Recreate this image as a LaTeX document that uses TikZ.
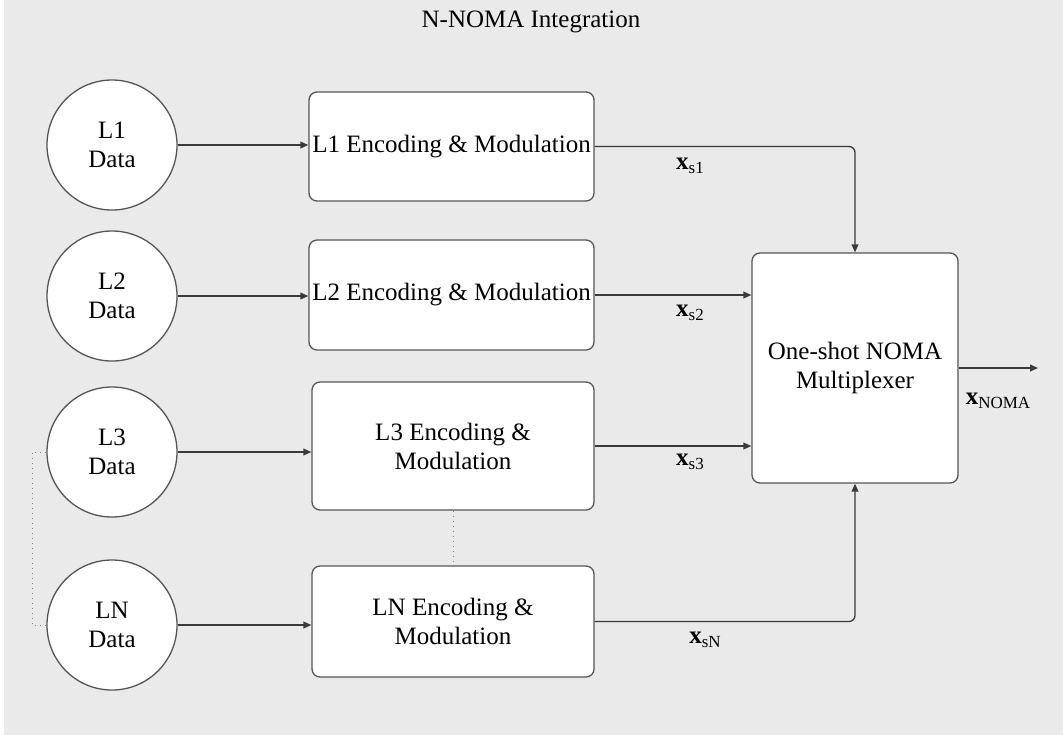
\documentclass[tikz,border=0pt]{standalone}
\usepackage{fontspec}
\setmainfont{Liberation Serif}
\usetikzlibrary{arrows.meta,calc}
\definecolor{bgc}{HTML}{EAEAEA}
\definecolor{ln}{HTML}{3A3A3A}
\definecolor{rim}{HTML}{555555}
\newcommand{\xsig}[1]{\textbf{x}\raisebox{-0.4ex}{\fontsize{8.5}{9}\selectfont #1}}
\tikzset{
  >={Triangle[length=4pt,width=3.4pt]},
  dat/.style={circle,draw=rim,fill=white,minimum size=65pt,inner sep=0pt,align=center},
  blk/.style={rectangle,rounded corners=4pt,draw=rim,fill=white,inner sep=0pt,align=center},
  sig/.style={inner sep=0pt,anchor=center},
  every picture/.style={line width=0.65pt},
  every node/.style={font=\fontsize{12.5}{14.5}\selectfont},
}
\begin{document}
\begin{tikzpicture}[x=0.5pt,y=-0.5pt]
\fill[white] (0,0) rectangle (1063,735); \fill[bgc] (4,0) rectangle (1063,735);
\node (title) at (531,22) {N-NOMA Integration};
% data sources
\node[dat] (d1) at (112,145){L1\\Data}; \node[dat] (d2) at (112,296){L2\\Data};
\node[dat] (d3) at (112,452){L3\\Data}; \node[dat] (dN) at (112,625){LN\\Data};
% encoders
\node[blk,minimum width=142.5pt,minimum height=54.5pt] (b1) at (451.5,146.5){L1 Encoding \& Modulation};
\node[blk,minimum width=142.5pt,minimum height=55pt] (b2) at (451.5,295){L2 Encoding \& Modulation};
\node[blk,minimum width=141pt,minimum height=64pt] (b3) at (453,446){L3 Encoding \&\\Modulation};
\node[blk,minimum width=141pt,minimum height=55.5pt] (bN) at (453,621.5){LN Encoding \&\\Modulation};
\node[blk,minimum width=103pt,minimum height=115pt] (mux) at (855,368){One-shot NOMA\\Multiplexer};
\coordinate (out) at (1038,370);
\draw[->,ln] (d1)--(d1 -| b1.west); \draw[->,ln] (d2)--(d2 -| b2.west);
\draw[->,ln] (d3)--(d3 -| b3.west); \draw[->,ln] (dN)--(dN -| bN.west);
\draw[->,ln,rounded corners=3pt] (b1.east) -| (mux.north);
\draw[->,ln] (b2.east)--(b2.east -| mux.west); \draw[->,ln] (b3.east)--(b3.east -| mux.west);
\draw[->,ln,rounded corners=3pt] (bN.east) -| (mux.south);
\draw[->,ln] (mux.east)--(mux.east -| out);
\draw[gray,dotted,line width=0.5pt] (d3.west) -- ++(-14,0) |- (dN.west);
\draw[gray,dotted,line width=0.5pt] (b3.south)--(bN.north);
\node[sig] (xs1) at (690,166){\xsig{s1}}; \node[sig] (xs2) at (690,313){\xsig{s2}};
\node[sig] (xs3) at (690,462){\xsig{s3}}; \node[sig] (xsN) at (705,640){\xsig{sN}};
\node[sig] (xno) at (998,401){\xsig{NOMA}};
\end{tikzpicture}
\end{document}
